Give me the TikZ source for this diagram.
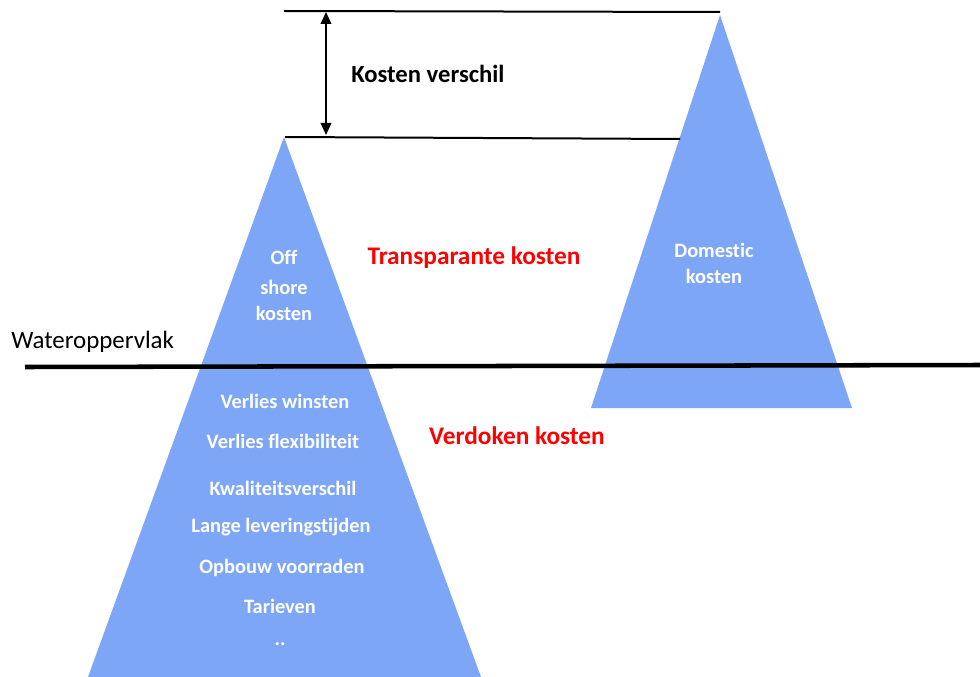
\documentclass[tikz,border=0pt]{standalone}
\usepackage{fontspec}
\setmainfont[Ligatures={NoCommon,NoRare}]{Carlito}
\usetikzlibrary{arrows.meta}
\definecolor{ice}{RGB}{126,166,247}
\tikzset{
  berg/.style={fill=ice, draw=none},
  wtxt/.style={text=white, font=\bfseries\fontsize{15.3}{18}\selectfont, inner sep=0pt},
  rtxt/.style={text=red, font=\bfseries\fontsize{19}{22}\selectfont, inner sep=0pt},
  guide/.style={line width=1.5pt},
}
\begin{document}
\begin{tikzpicture}[x=0.75pt,y=-0.75pt]
\useasboundingbox (0,0) rectangle (980,677);
% triangles
\coordinate (LA) at (284,137);
\coordinate (LL) at (88,677);
\coordinate (LR) at (481,677);
\coordinate (RA) at (720,15);
\coordinate (RL) at (591,408);
\coordinate (RR) at (852,408);
\fill[berg] (LA) -- (LL) -- (LR) -- cycle;
\fill[berg] (RA) -- (RL) -- (RR) -- cycle;
% guide lines
\coordinate (T1) at (284,11);
\coordinate (T2) at (720,12);
\coordinate (B1) at (285,137);
\coordinate (B2) at (680,139);
\draw[guide] (T1) -- (T2);
\draw[guide] (B1) -- (B2);
\coordinate (AT) at (326,12);
\coordinate (AB) at (326,135);
\draw[line width=1pt, {Triangle[length=9pt,width=8pt]}-{Triangle[length=9pt,width=8pt]}] (AT) -- (AB);
% waterline
\coordinate (W1) at (25,367);
\coordinate (W2) at (980,365);
\draw[line width=3.4pt] (W1) -- (W2);
\node[anchor=west, inner sep=0pt, font=\fontsize{18.7}{22}\selectfont] (wl) at (11,342) {Wateroppervlak};
% labels
\node[anchor=west, inner sep=0pt, font=\bfseries\fontsize{18.5}{22}\selectfont] (kv) at (351,74) {Kosten verschil};
\node[rtxt] (tk) at (474,258) {Transparante kosten};
\node[rtxt] (vk) at (517,436) {Verdoken kosten};
% left berg text
\node[wtxt] (o1) at (284,257) {Off};
\node[wtxt] (o2) at (284,287) {shore};
\node[wtxt] (o3) at (284,313) {kosten};
\node[wtxt] (h1) at (285,401) {Verlies winsten};
\node[wtxt] (h2) at (283,441) {Verlies flexibiliteit};
\node[wtxt] (h3) at (283,488) {Kwaliteitsverschil};
\node[wtxt] (h4) at (281,527) {Lange leveringstijden};
\node[wtxt] (h5) at (282,568) {Opbouw voorraden};
\node[wtxt] (h6) at (280,606) {Tarieven};
\node[wtxt] (h7) at (280,644) {..};
% right berg text
\node[wtxt] (d1) at (714,250) {Domestic};
\node[wtxt] (d2) at (714,276) {kosten};
\end{tikzpicture}
\end{document}
